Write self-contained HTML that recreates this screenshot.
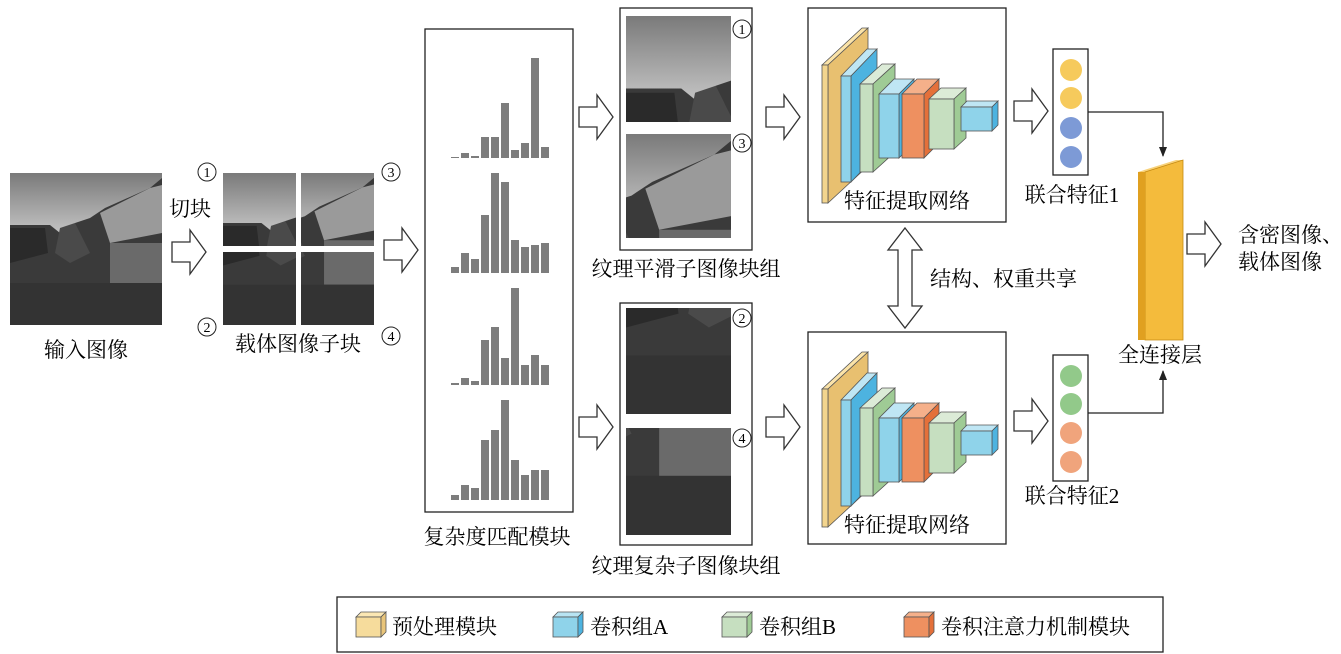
<!DOCTYPE html>
<html><head><meta charset="utf-8"><style>
html,body{margin:0;padding:0;background:#fff;}
svg{display:block;font-family:"Liberation Serif","Noto Serif CJK SC","Noto Sans CJK SC",serif;}
</style></head><body>
<svg width="1341" height="654" viewBox="0 0 1341 654" xmlns="http://www.w3.org/2000/svg">
<defs>
<linearGradient id="sky" x1="0" y1="0" x2="0" y2="1">
<stop offset="0" stop-color="#7a7a7a"/><stop offset="0.45" stop-color="#cdcdcd"/></linearGradient>
<g id="scene">
<rect x="0" y="0" width="152" height="152" fill="url(#sky)"/>
<polygon points="0,52 40,52 50,60 55,58 58,70 65,50 80,45 95,35 140,15 152,5 152,152 0,152" fill="#3a3a3a"/>
<polygon points="90,40 140,15 152,12 152,60 100,70" fill="#9a9a9a"/>
<polygon points="0,55 35,55 38,80 0,90" fill="#2a2a2a"/>
<polygon points="50,55 65,50 80,80 60,90 45,80" fill="#4a4a4a"/>
<rect x="100" y="70" width="52" height="40" fill="#6a6a6a"/>
<rect x="0" y="110" width="152" height="42" fill="#333"/>
</g>
<marker id="ah" markerWidth="10" markerHeight="10" refX="9" refY="5" orient="auto" markerUnits="userSpaceOnUse">
<path d="M0,1 L10,5 L0,9 z" fill="#222"/></marker>
<path id="barr" d="M0,-10 L18,-10 L18,-22 L34,0 L18,22 L18,10 L0,10 z" fill="#fff" stroke="#333" stroke-width="1.3"/>
</defs>

<svg x="10" y="173" width="152" height="152" viewBox="0 0 152 152"><use href="#scene"/></svg>
<text x="86" y="357" font-size="21" text-anchor="middle">输入图像</text>
<text x="169" y="216" font-size="21">切块</text>
<use href="#barr" x="172" y="252"/>
<g fill="none" stroke="#222" stroke-width="1">
<circle cx="207" cy="172" r="9"/><circle cx="391" cy="172" r="9"/><circle cx="207" cy="327" r="9"/><circle cx="391" cy="336" r="9"/>
</g>
<g font-size="14" text-anchor="middle">
<text x="207" y="177">1</text><text x="391" y="177">3</text><text x="207" y="332">2</text><text x="391" y="341">4</text>
</g>
<svg x="223" y="173" width="73" height="73" viewBox="0 0 76 76" preserveAspectRatio="none"><use href="#scene"/></svg>
<svg x="301" y="173" width="73" height="73" viewBox="76 0 76 76" preserveAspectRatio="none"><use href="#scene"/></svg>
<svg x="223" y="252" width="73" height="73" viewBox="0 76 76 76" preserveAspectRatio="none"><use href="#scene"/></svg>
<svg x="301" y="252" width="73" height="73" viewBox="76 76 76 76" preserveAspectRatio="none"><use href="#scene"/></svg>
<text x="298" y="351" font-size="21" text-anchor="middle">载体图像子块</text>
<use href="#barr" x="384" y="250"/>

<rect x="425" y="29" width="148" height="483" fill="#fff" stroke="#222" stroke-width="1.3"/>
<text x="497" y="544" font-size="21" text-anchor="middle">复杂度匹配模块</text>

<use href="#barr" x="579" y="117"/>
<use href="#barr" x="579" y="427"/>

<rect x="620" y="8" width="132" height="242" fill="#fff" stroke="#222" stroke-width="1.3"/>
<svg x="626" y="16" width="105" height="106" viewBox="0 0 76 76" preserveAspectRatio="none"><use href="#scene"/></svg>
<svg x="626" y="134" width="105" height="104" viewBox="76 0 76 76" preserveAspectRatio="none"><use href="#scene"/></svg>
<circle cx="742" cy="29" r="9" fill="none" stroke="#222"/><text x="742" y="34" font-size="14" text-anchor="middle">1</text>
<circle cx="742" cy="143" r="9" fill="none" stroke="#222"/><text x="742" y="148" font-size="14" text-anchor="middle">3</text>
<text x="686" y="276" font-size="21" text-anchor="middle">纹理平滑子图像块组</text>
<rect x="620" y="303" width="132" height="242" fill="#fff" stroke="#222" stroke-width="1.3"/>
<svg x="626" y="308" width="105" height="106" viewBox="0 76 76 76" preserveAspectRatio="none"><use href="#scene"/></svg>
<svg x="626" y="428" width="105" height="107" viewBox="76 76 76 76" preserveAspectRatio="none"><use href="#scene"/></svg>
<circle cx="742" cy="318" r="9" fill="none" stroke="#222"/><text x="742" y="323" font-size="14" text-anchor="middle">2</text>
<circle cx="742" cy="438" r="9" fill="none" stroke="#222"/><text x="742" y="443" font-size="14" text-anchor="middle">4</text>
<text x="686" y="573" font-size="21" text-anchor="middle">纹理复杂子图像块组</text>

<use href="#barr" x="766" y="117"/>
<use href="#barr" x="766" y="427"/>

<rect x="808" y="8" width="198" height="214" fill="#fff" stroke="#222" stroke-width="1.3"/>
<rect x="808" y="332" width="198" height="212" fill="#fff" stroke="#222" stroke-width="1.3"/>
<text x="907" y="208" font-size="21" text-anchor="middle">特征提取网络</text>
<text x="907" y="532" font-size="21" text-anchor="middle">特征提取网络</text>

<path d="M905,228 L922,250 L912,250 L912,306 L922,306 L905,328 L888,306 L898,306 L898,250 L888,250 z" fill="#fff" stroke="#333" stroke-width="1.3"/>
<text x="930" y="286" font-size="21">结构、权重共享</text>

<use href="#barr" x="1014" y="111"/>
<use href="#barr" x="1014" y="421"/>

<rect x="1053" y="49" width="35" height="126" fill="#fff" stroke="#222" stroke-width="1.3"/>
<circle cx="1071" cy="70" r="11" fill="#f6ca5c"/><circle cx="1071" cy="98" r="11" fill="#f6ca5c"/>
<circle cx="1071" cy="128" r="11" fill="#7d9ad6"/><circle cx="1071" cy="157" r="11" fill="#7d9ad6"/>
<rect x="1053" y="355" width="35" height="126" fill="#fff" stroke="#222" stroke-width="1.3"/>
<circle cx="1071" cy="376" r="11" fill="#92c98a"/><circle cx="1071" cy="404" r="11" fill="#92c98a"/>
<circle cx="1071" cy="433" r="11" fill="#f0a47c"/><circle cx="1071" cy="462" r="11" fill="#f0a47c"/>
<text x="1072" y="202" font-size="21" text-anchor="middle">联合特征1</text>
<text x="1072" y="503" font-size="21" text-anchor="middle">联合特征2</text>
<path d="M1088,112 L1163,112 L1163,156" fill="none" stroke="#222" stroke-width="1.3" marker-end="url(#ah)"/>
<path d="M1088,413 L1163,413 L1163,371" fill="none" stroke="#222" stroke-width="1.3" marker-end="url(#ah)"/>

<polygon points="1138,172 1176,160 1183,160 1145,172" fill="#f8d27a"/>
<polygon points="1145,172 1183,160 1183,340 1145,340" fill="#f4bb3c" stroke="#c58a10" stroke-width="0.8"/>
<rect x="1138" y="172" width="7" height="168" fill="#e0a020"/>
<text x="1160" y="362" font-size="21" text-anchor="middle">全连接层</text>
<use href="#barr" x="1187" y="244"/>
<text x="1238" y="242" font-size="21">含密图像、</text>
<text x="1238" y="269" font-size="21">载体图像</text>

<rect x="337" y="597" width="826" height="55" fill="#fff" stroke="#222" stroke-width="1.3"/>
<g font-size="21">
<g transform="translate(356,612)"><polygon points="0,5 5,0 30,0 25,5" fill="#fbe7b3" stroke="#555" stroke-width="0.8"/><rect x="0" y="5" width="25" height="20" fill="#f6dc9c" stroke="#555" stroke-width="0.8"/><polygon points="25,5 30,0 30,20 25,25" fill="#e9c57a" stroke="#555" stroke-width="0.8"/></g>
<text x="392" y="634">预处理模块</text>
<g transform="translate(553,612)"><polygon points="0,5 5,0 30,0 25,5" fill="#b8e4f3" stroke="#555" stroke-width="0.8"/><rect x="0" y="5" width="25" height="20" fill="#8fd3ea" stroke="#555" stroke-width="0.8"/><polygon points="25,5 30,0 30,20 25,25" fill="#4db3e0" stroke="#555" stroke-width="0.8"/></g>
<text x="590" y="634">卷积组A</text>
<g transform="translate(722,612)"><polygon points="0,5 5,0 30,0 25,5" fill="#dcebd7" stroke="#555" stroke-width="0.8"/><rect x="0" y="5" width="25" height="20" fill="#c6dfc0" stroke="#555" stroke-width="0.8"/><polygon points="25,5 30,0 30,20 25,25" fill="#9fcb95" stroke="#555" stroke-width="0.8"/></g>
<text x="759" y="634">卷积组B</text>
<g transform="translate(904,612)"><polygon points="0,5 5,0 30,0 25,5" fill="#f5b08a" stroke="#555" stroke-width="0.8"/><rect x="0" y="5" width="25" height="20" fill="#ee9060" stroke="#555" stroke-width="0.8"/><polygon points="25,5 30,0 30,20 25,25" fill="#e4703a" stroke="#555" stroke-width="0.8"/></g>
<text x="941" y="634">卷积注意力机制模块</text>
</g>

<g fill="#7d7d7d">
<rect x="451" y="157" width="8" height="1"/><rect x="461" y="153" width="8" height="5"/><rect x="471" y="156" width="8" height="2"/><rect x="481" y="137" width="8" height="21"/><rect x="491" y="137" width="8" height="21"/><rect x="501" y="103" width="8" height="55"/><rect x="511" y="150" width="8" height="8"/><rect x="521" y="143" width="8" height="15"/><rect x="531" y="58" width="8" height="100"/><rect x="541" y="147" width="8" height="11"/>
<rect x="451" y="267" width="8" height="6"/><rect x="461" y="253" width="8" height="20"/><rect x="471" y="259" width="8" height="14"/><rect x="481" y="215" width="8" height="58"/><rect x="491" y="173" width="8" height="100"/><rect x="501" y="182" width="8" height="91"/><rect x="511" y="240" width="8" height="33"/><rect x="521" y="247" width="8" height="26"/><rect x="531" y="245" width="8" height="28"/><rect x="541" y="243" width="8" height="30"/>
<rect x="451" y="383" width="8" height="2"/><rect x="461" y="378" width="8" height="7"/><rect x="471" y="381" width="8" height="4"/><rect x="481" y="340" width="8" height="45"/><rect x="491" y="327" width="8" height="58"/><rect x="501" y="358" width="8" height="27"/><rect x="511" y="288" width="8" height="97"/><rect x="521" y="365" width="8" height="20"/><rect x="531" y="355" width="8" height="30"/><rect x="541" y="365" width="8" height="20"/>
<rect x="451" y="495" width="8" height="5"/><rect x="461" y="485" width="8" height="15"/><rect x="471" y="488" width="8" height="12"/><rect x="481" y="440" width="8" height="60"/><rect x="491" y="430" width="8" height="70"/><rect x="501" y="400" width="8" height="100"/><rect x="511" y="460" width="8" height="40"/><rect x="521" y="475" width="8" height="25"/><rect x="531" y="470" width="8" height="30"/><rect x="541" y="470" width="8" height="30"/>
</g>

<g stroke="#555" stroke-width="0.8">
<g id="cnnA">
<polygon points="822,65 862,28 868,28 828,65" fill="#fbe3a8"/><polygon points="828,65 868,28 868,166 828,203" fill="#e8c070"/><rect x="822" y="65" width="6" height="138" fill="#f3d58e"/>
<polygon points="841,76 867,49 877,49 851,76" fill="#bfe6f4"/><polygon points="851,76 877,49 877,155 851,182" fill="#4db3e0"/><rect x="841" y="76" width="10" height="106" fill="#8fd3ea"/>
<polygon points="860,84 882,64 895,64 873,84" fill="#dcebd7"/><polygon points="873,84 895,64 895,152 873,172" fill="#9fcb95"/><rect x="860" y="84" width="13" height="88" fill="#c6dfc0"/>
<polygon points="879,94 894,79 914,79 899,94" fill="#bfe6f4"/><polygon points="899,94 914,79 914,143 899,158" fill="#4db3e0"/><rect x="879" y="94" width="20" height="64" fill="#8fd3ea"/>
<polygon points="902,94 917,79 939,79 924,94" fill="#f5b08a"/><polygon points="924,94 939,79 939,143 924,158" fill="#e4703a"/><rect x="902" y="94" width="22" height="64" fill="#ee9060"/>
<polygon points="929,99 941,88 966,88 954,99" fill="#dcebd7"/><polygon points="954,99 966,88 966,138 954,149" fill="#9fcb95"/><rect x="929" y="99" width="25" height="50" fill="#c6dfc0"/>
<polygon points="961,107 967,101 998,101 992,107" fill="#bfe6f4"/><polygon points="992,107 998,101 998,125 992,131" fill="#4db3e0"/><rect x="961" y="107" width="31" height="24" fill="#8fd3ea"/>
</g>
<use href="#cnnA" y="324"/>
</g>
</svg>
</body></html>
